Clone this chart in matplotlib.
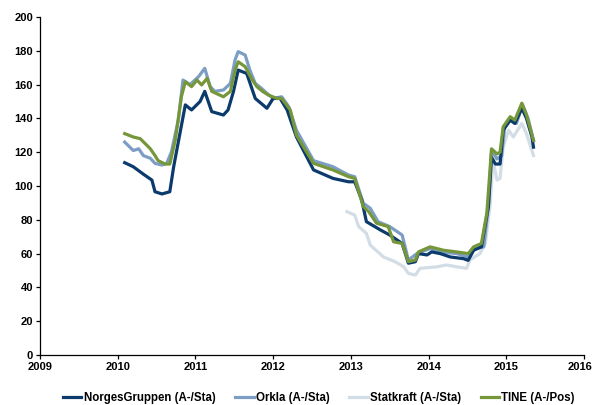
import matplotlib
matplotlib.use("Agg")
import matplotlib.pyplot as plt
import matplotlib.transforms as mtransforms

plt.rcParams['font.family'] = ['Liberation Sans', 'DejaVu Sans']

ng_x = [2010.09, 2010.20, 2010.33, 2010.44, 2010.48, 2010.57, 2010.67, 2010.72, 2010.80, 2010.87,
        2010.95, 2011.06, 2011.12, 2011.21, 2011.36, 2011.42, 2011.49, 2011.55, 2011.66, 2011.77,
        2011.92, 2012.00, 2012.09, 2012.18, 2012.30, 2012.52, 2012.77, 2012.97, 2013.05, 2013.14,
        2013.20, 2013.38, 2013.50, 2013.66, 2013.74, 2013.83, 2013.87, 2013.98, 2014.04, 2014.15,
        2014.28, 2014.45, 2014.51, 2014.58, 2014.68, 2014.77, 2014.81, 2014.86, 2014.92, 2014.96,
        2015.05, 2015.11, 2015.20, 2015.26, 2015.33, 2015.35]
ng_y = [113.8, 111.4, 107, 103.5, 96.6, 95.3, 96.6, 111.4, 131, 148,
        145, 150, 156, 144, 142, 145, 156, 168.6, 166.6, 151.8,
        146, 151.8, 151.8, 145, 129, 109.5, 104.5, 102.5, 102.5, 91.7,
        78.9, 74, 71, 66, 54.3, 55.2, 60, 59.2, 61, 60,
        58, 57, 56, 62, 64, 87.8, 117, 113, 113, 133,
        139, 137, 146, 140, 129, 123]

ok_x = [2010.09, 2010.20, 2010.27, 2010.33, 2010.42, 2010.48, 2010.57, 2010.63, 2010.69, 2010.78,
        2010.84, 2010.93, 2011.04, 2011.12, 2011.19, 2011.25, 2011.36, 2011.45, 2011.51, 2011.55,
        2011.64, 2011.70, 2011.77, 2011.85, 2011.92, 2012.00, 2012.11, 2012.20, 2012.30, 2012.52,
        2012.77, 2012.97, 2013.05, 2013.16, 2013.25, 2013.35, 2013.50, 2013.66, 2013.74, 2013.85,
        2014.02, 2014.15, 2014.36, 2014.51, 2014.60, 2014.71, 2014.77, 2014.81, 2014.88, 2014.94,
        2014.98, 2015.07, 2015.13, 2015.21, 2015.28, 2015.35]
ok_y = [126, 121, 122, 118, 116.4, 113.4, 112.4, 113.4, 120, 139,
        162.7, 160, 164.7, 169.6, 158.8, 156, 156.8, 160.7, 174.6, 179.5,
        177.5, 168.6, 160.7, 157.8, 154.8, 151.8, 152.8, 147, 133, 115,
        111.4, 106.5, 105.5, 89.8, 86.8, 78.9, 76, 71, 56.2, 60,
        63, 61, 60, 58, 63, 64, 88, 121, 116, 118,
        135, 140, 137, 148, 140, 127]

sk_x = [2012.95, 2013.05, 2013.10, 2013.20, 2013.25, 2013.42, 2013.57, 2013.68, 2013.74, 2013.83,
        2013.89, 2014.11, 2014.23, 2014.36, 2014.49, 2014.53, 2014.66, 2014.73, 2014.79, 2014.83,
        2014.88, 2014.92, 2014.96, 2015.03, 2015.09, 2015.20, 2015.26, 2015.35]
sk_y = [84.8, 82.8, 76, 72, 65, 58, 55.2, 52.2, 48.3, 47.3,
        51.3, 52.2, 53.3, 52.2, 51.3, 56.2, 60, 66, 88, 115,
        103.5, 104.5, 123, 133, 129, 137, 131, 118]

tn_x = [2010.09, 2010.20, 2010.29, 2010.42, 2010.48, 2010.52, 2010.61, 2010.67, 2010.74, 2010.82,
        2010.87, 2010.95, 2011.02, 2011.08, 2011.15, 2011.21, 2011.36, 2011.45, 2011.51, 2011.55,
        2011.64, 2011.72, 2011.79, 2011.87, 2011.94, 2012.05, 2012.11, 2012.22, 2012.30, 2012.52,
        2012.77, 2012.97, 2013.05, 2013.16, 2013.23, 2013.33, 2013.48, 2013.55, 2013.66, 2013.74,
        2013.83, 2013.87, 2014.02, 2014.19, 2014.36, 2014.51, 2014.58, 2014.68, 2014.75, 2014.81,
        2014.88, 2014.92, 2014.96, 2015.05, 2015.11, 2015.20, 2015.26, 2015.35]
tn_y = [131, 129, 128, 122, 118, 115, 113, 113, 127, 153,
        161.7, 158.8, 162.7, 159.8, 163.7, 156, 152.8, 156, 168.6, 173.5,
        170.6, 163.7, 158.8, 155.8, 153.8, 151.8, 151.8, 145, 130, 113.4,
        109.5, 105.5, 104.5, 87.8, 84.8, 78, 76, 67, 66, 55.2,
        56.2, 61, 64, 62, 61, 60, 64, 66, 84, 122,
        119, 120, 135, 141, 139, 149, 142, 127]

labels = ['NorgesGruppen (A-/Sta)', 'Orkla (A-/Sta)', 'Statkraft (A-/Sta)', 'TINE (A-/Pos)']
colors = ['#0b3a6c', '#7d9ec4', '#d2dde6', '#76963a']
year_ticks = [2009, 2010, 2011, 2012, 2013, 2014, 2015, 2016]
y_ticks = list(range(0, 201, 20))

fig = plt.figure(figsize=(5.94, 4.05), dpi=100)
ax = fig.add_axes([40/594, 50/405, 544/594, 338/405])

series = [(ng_x, ng_y, 3), (ok_x, ok_y, 2), (sk_x, sk_y, 1), (tn_x, tn_y, 4)]
handles = []
for (xs, ys, z), lab, col in zip(series, labels, colors):
    h, = ax.plot(xs, ys, color=col, lw=2.3, zorder=z, label=lab, solid_joinstyle='round')
    handles.append(h)

ax.set_xlim(2009, 2016)
ax.set_ylim(0, 200)
ax.set_xticks(year_ticks)
ax.set_xticklabels([str(t) for t in year_ticks])
ax.set_yticks(y_ticks)
for s in ['top', 'right']:
    ax.spines[s].set_visible(False)
for s in ['left', 'bottom']:
    ax.spines[s].set_linewidth(0.9)
ax.tick_params(direction='out', length=3, width=0.9, labelsize=8, pad=2)
for lbl in ax.get_xticklabels() + ax.get_yticklabels():
    lbl.set_fontweight('bold')
# keep the last year label inside the figure
last = ax.get_xticklabels()[-1]
last.set_transform(last.get_transform() + mtransforms.ScaledTranslation(-4/100, 0, fig.dpi_scale_trans))

leg = fig.legend(handles=handles, labels=labels, loc='lower center', ncol=4,
                 bbox_to_anchor=(0.537, -0.022), frameon=False, handlelength=1.6,
                 handletextpad=0.2, columnspacing=1.7, prop={'size': 8.3, 'weight': 'bold'})

fig.savefig('out.png', dpi=100)
